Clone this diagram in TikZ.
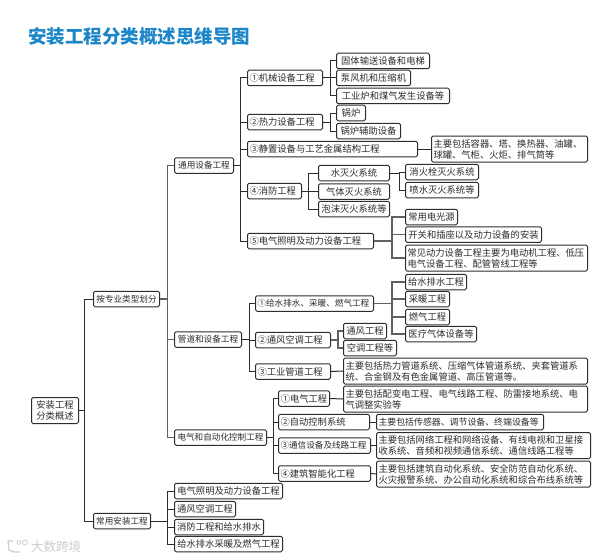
\documentclass[tikz,border=0pt]{standalone}
\usepackage{xcolor}
\usepackage{fontspec}
\setmainfont{Noto Sans CJK SC}
\usetikzlibrary{positioning, calc}
\definecolor{titleblue}{RGB}{28,134,200}
\definecolor{boxdark}{RGB}{45,45,45}
\definecolor{marcagrey}{RGB}{205,205,205}
\tikzset{
    box/.style={draw=boxdark, line width=1pt, rounded corners=1.5pt, anchor=west, inner sep=2pt,
        minimum height=15.5pt, text=boxdark, font=\fontsize{9.3}{11}\selectfont},
    para/.style={box, align=left, minimum height=26pt},
    lbox/.style={box, align=left, text width=#1},
    stretto/.style={font=\fontsize{8.6}{10}\selectfont},
    link/.style={draw=boxdark, line width=1pt},
    trunk/.style={draw=boxdark!75, line width=1.4pt}
}

\begin{document}
\begin{tikzpicture}[x=1pt, y=-1pt]
    \useasboundingbox (0,0) rectangle (604,559);
    \fill[white] (0,0) rectangle (604,559);

    % Titolo
    \node[anchor=west, inner sep=0pt, text=titleblue, font=\fontsize{18.5}{20}\selectfont\bfseries] (titolo) at (28,36) {安装工程分类概述思维导图};

    % Radice e primo livello
    \node[box, align=center, minimum width=47pt, minimum height=26pt] (root) at (31,410.5) {安装工程\\分类概述};
    \node[box, stretto, minimum width=66pt] (tipo) at (93,299) {按专业类型划分};
    \node[box, stretto, minimum width=57pt] (comune) at (93,521) {常用安装工程};
    \coordinate (jroot) at (84.5,410.5);
    \draw[link] (root.east) -- (jroot);
    \foreach \k in {tipo,comune} \draw[link] (jroot) |- (\k.west);

    % Secondo livello
    \node[box, stretto, minimum width=59pt] (generale) at (174,165.5) {通用设备工程};
    \node[box, stretto, minimum width=67pt] (tubi) at (174,339.5) {管道和设备工程};
    \node[box, stretto, minimum width=92pt] (elettro) at (174,437.5) {电气和自动化控制工程};
    \coordinate (jtipo) at (167.5,299);
    \draw[trunk] (tipo.east) -- (jtipo);
    \foreach \k in {generale,tubi,elettro} \draw[trunk] (jtipo) |- (\k.west);

    % Installazioni comuni
    \node[box, minimum width=108pt] (c1) at (174,491) {电气照明及动力设备工程};
    \node[box, minimum width=61pt] (c2) at (174,509) {通风空调工程};
    \node[box, minimum width=89pt] (c3) at (174,527) {消防工程和给水排水};
    \node[box, minimum width=108pt] (c4) at (174,544) {给水排水采暖及燃气工程};
    \coordinate (jcomune) at (167.5,521);
    \draw[link] (comune.east) -- (jcomune);
    \foreach \k in {c1,c2,c3,c4} \draw[link] (jcomune) |- (\k.west);

    % Impianti generali
    \node[lbox=71pt] (g1) at (247,78) {①机械设备工程};
    \node[lbox=71pt] (g2) at (247,122) {②热力设备工程};
    \node[lbox=166pt] (g3) at (247,149) {③静置设备与工艺金属结构工程};
    \node[lbox=50pt] (g4) at (247,191) {④消防工程};
    \node[lbox=122pt] (g5) at (247,241) {⑤电气照明及动力设备工程};
    \coordinate (jgen) at (240.5,165.5);
    \draw[link] (generale.east) -- (jgen);
    \foreach \k in {g1,g2,g3,g4,g5} \draw[link] (jgen) |- (\k.west);

    % Meccanici e termici
    \node[box, minimum width=93pt] (m1) at (336,61) {固体输送设备和电梯};
    \node[box, minimum width=74pt] (m2) at (336,78) {泵风机和压缩机};
    \node[box, minimum width=113pt] (m3) at (336,96) {工业炉和煤气发生设备等};
    \coordinate (jm) at (330,78);
    \draw[link] (g1.east) -- (jm);
    \foreach \k in {m1,m2,m3} \draw[link] (jm) |- (\k.west);
    \node[box, minimum width=29pt] (t1) at (336,113) {锅炉};
    \node[box, minimum width=64pt] (t2) at (336,131) {锅炉辅助设备};
    \coordinate (jt) at (330,122);
    \draw[link] (g2.east) -- (jt);
    \foreach \k in {t1,t2} \draw[link] (jt) |- (\k.west);
    \node[para, text width=152pt] (s1) at (431,149) {主要包括容器、塔、换热器、油罐、\\球罐、气柜、火炬、排气筒等};
    \draw[link] (g3.east) -- (s1.west);

    % Antincendio
    \node[box, minimum width=71pt] (f1) at (318,173) {水灭火系统};
    \node[box, minimum width=71pt] (f2) at (318,191.5) {气体灭火系统};
    \node[box, minimum width=71pt] (f3) at (318,209) {泡沫灭火系统等};
    \coordinate (jf) at (308.5,191);
    \draw[link] (g4.east) -- (jf);
    \foreach \k in {f1,f2,f3} \draw[link] (jf) |- (\k.west);
    \node[box, minimum width=73pt] (a1) at (405,172) {消火栓灭火系统};
    \node[box, minimum width=73pt] (a2) at (405,190) {喷水灭火系统等};
    \coordinate (ja) at (399,173);
    \draw[link] (f1.east) -- (ja);
    \foreach \k in {a1,a2} \draw[link] (ja) |- (\k.west);

    % Illuminazione e potenza
    \node[box, minimum width=52pt] (e1) at (405,217) {常用电光源};
    \node[box, minimum width=136pt] (e2) at (405,234.5) {开关和插座以及动力设备的安装};
    \node[para, text width=178pt] (e3) at (405,258) {常见动力设备工程主要为电动机工程、低压\\电气设备工程、配管管线工程等};
    \coordinate (je) at (392,241);
    \draw[trunk] (g5.east) -- (je);
    \foreach \k in {e1,e2,e3} \draw[trunk] (je) |- (\k.west);

    % Tubazioni
    \node[lbox=114pt, stretto] (p1) at (255,303.5) {①给水排水、采暖、燃气工程};
    \node[lbox=71pt] (p2) at (255,340) {②通风空调工程};
    \node[lbox=71pt] (p3) at (255,371.5) {③工业管道工程};
    \coordinate (jp) at (249,339.5);
    \draw[link] (tubi.east) -- (jp);
    \foreach \k in {p1,p2,p3} \draw[link] (jp) |- (\k.west);
    \node[box, minimum width=61pt] (w1) at (405,282) {给水排水工程};
    \node[box, minimum width=44pt] (w2) at (405,299) {采暖工程};
    \node[box, minimum width=44pt] (w3) at (405,317) {燃气工程};
    \node[box, minimum width=71pt] (w4) at (405,334) {医疗气体设备等};
    \coordinate (jw) at (392,303.5);
    \draw[trunk] (p1.east) -- (jw);
    \foreach \k in {w1,w2,w3,w4} \draw[trunk] (jw) |- (\k.west);
    \node[box, minimum width=43pt] (v1) at (343,331) {通风工程};
    \node[box, minimum width=53pt] (v2) at (343,348) {空调工程等};
    \coordinate (jv) at (338,340);
    \draw[trunk] (p2.east) -- (jv);
    \foreach \k in {v1,v2} \draw[trunk] (jv) |- (\k.west);
    \node[para, text width=240pt] (i1) at (343,371) {主要包括热力管道系统、压缩气体管道系统、夹套管道系\\统、合金钢及有色金属管道、高压管道等。};
    \draw[link] (p3.east) -- (i1.west);

    % Elettrico e automazione
    \node[box, minimum width=51pt] (d1) at (278,398.5) {①电气工程};
    \node[lbox=87pt] (d2) at (278,422) {②自动控制系统};
    \node[lbox=88pt, stretto] (d3) at (278,445.5) {③通信设备及线路工程};
    \node[lbox=88pt] (d4) at (278,473.5) {④建筑智能化工程};
    \coordinate (jd) at (273,437.5);
    \draw[link] (elettro.east) -- (jd);
    \foreach \k in {d1,d2,d3,d4} \draw[link] (jd) |- (\k.west);
    \node[para, text width=240pt] (q1) at (343,399) {主要包括配变电工程、电气线路工程、防雷接地系统、电\\气调整实验等};
    \node[lbox=163pt, font=\fontsize{8.9}{11}\selectfont] (q2) at (376,422) {主要包括传感器、调节设备、终端设备等};
    \node[para, text width=210pt] (q3) at (376,445.5) {主要包括网络工程和网络设备、有线电视和卫星接\\收系统、音频和视频通信系统、通信线路工程等};
    \node[para, text width=210pt] (q4) at (376,474) {主要包括建筑自动化系统、安全防范自动化系统、\\火灾报警系统、办公自动化系统和综合布线系统等};
    \foreach \k in {1,2,3,4} \draw[link] (d\k.east) -- (q\k.west);

    % Filigrana
    \node[anchor=west, inner sep=0pt, text=marcagrey, font=\fontsize{12.5}{13}\selectfont] (marca) at (31,547) {大数跨境};
    \draw[marcagrey, line width=1.2pt] (13,541) -- (8,541) -- (9,550) -- (14,552) -- (20,552);
    \draw[marcagrey, line width=.8pt] (19,542.5) circle (2pt) (25,542.5) circle (2.5pt);
\end{tikzpicture}
\end{document}
